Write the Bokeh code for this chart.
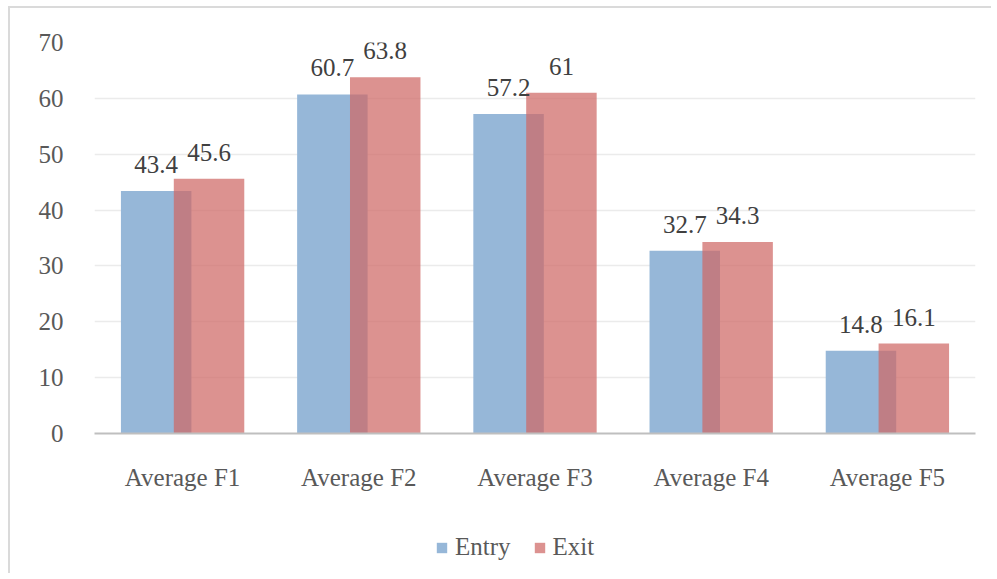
from bokeh.plotting import figure
from bokeh.layouts import column
from bokeh.models import (ColumnDataSource, FactorRange, Range1d, LabelSet, Legend,
                          LegendItem, FixedTicker)
from bokeh.core.properties import value
from bokeh.transform import dodge
from bokeh.embed import file_html
from bokeh.resources import INLINE

categories = ["Average F1", "Average F2", "Average F3", "Average F4", "Average F5"]
entry = [43.4, 60.7, 57.2, 32.7, 14.8]
exit_ = [45.6, 63.8, 61, 34.3, 16.1]
entry_labels = ["43.4", "60.7", "57.2", "32.7", "14.8"]
exit_labels = ["45.6", "63.8", "61", "34.3", "16.1"]
y_ticks = [0, 10, 20, 30, 40, 50, 60, 70]
series_names = ["Entry", "Exit"]

FONT = "Liberation Serif"
ENTRY_COLOR = "#96B7D8"
EXIT_COLOR = "#CE6865"
EXIT_ALPHA = 0.72

src = ColumnDataSource(dict(cat=categories, entry=entry, exit=exit_,
                            entry_lbl=entry_labels, exit_lbl=exit_labels))

p = figure(x_range=FactorRange(*categories, range_padding=0),
           y_range=Range1d(0, 70),
           width=981, height=503, output_backend="svg", toolbar_location=None,
           min_border_left=84, min_border_right=16, min_border_top=34,
           min_border_bottom=78)

p.background_fill_color = "white"
p.border_fill_color = "white"
p.outline_line_color = None

p.vbar(x=dodge("cat", -0.15, range=p.x_range), top="entry", width=0.4,
       source=src, fill_color=ENTRY_COLOR, line_color=None)
p.vbar(x=dodge("cat", 0.15, range=p.x_range), top="exit", width=0.4,
       source=src, fill_color=EXIT_COLOR, fill_alpha=EXIT_ALPHA, line_color=None)

for col, ycol, off in (("entry_lbl", "entry", -0.15), ("exit_lbl", "exit", 0.15)):
    lbl = LabelSet(x=dodge("cat", off, range=p.x_range), y=ycol, text=col, source=src,
                   y_offset=18, text_align="center", text_baseline="alphabetic",
                   text_font=value(FONT), text_font_size="25px", text_color="#404040")
    p.add_layout(lbl)

p.xgrid.grid_line_color = None
p.ygrid.grid_line_color = "#EBEBEB"
p.ygrid.grid_line_width = 1.5
p.yaxis.ticker = FixedTicker(ticks=y_ticks)

p.yaxis.axis_line_color = None
p.yaxis.major_tick_line_color = None
p.yaxis.minor_tick_line_color = None
p.yaxis.major_label_standoff = 25
p.yaxis.major_label_text_font = FONT
p.yaxis.major_label_text_font_size = "25px"
p.yaxis.major_label_text_color = "#595959"

p.xaxis.axis_line_color = "#BFBFBF"
p.xaxis.axis_line_width = 2
p.xaxis.major_tick_line_color = None
p.xaxis.minor_tick_line_color = None
p.xaxis.major_label_standoff = 24
p.xaxis.major_label_text_font = FONT
p.xaxis.major_label_text_font_size = "25px"
p.xaxis.major_label_text_color = "#595959"

# legend strip below the chart
lg = figure(width=981, height=62, output_backend="svg", toolbar_location=None,
            x_range=Range1d(0, 1), y_range=Range1d(0, 1),
            x_axis_type=None, y_axis_type=None, min_border=0)
lg.outline_line_color = None
lg.background_fill_color = "white"
lg.border_fill_color = "white"
r1 = lg.vbar(x=[0.5], top=[0], bottom=[0], width=0.1, fill_color=ENTRY_COLOR,
             line_color=None)
r2 = lg.vbar(x=[0.5], top=[0], bottom=[0], width=0.1, fill_color=EXIT_COLOR,
             fill_alpha=EXIT_ALPHA, line_color=None)
legend = Legend(items=[LegendItem(label=series_names[0], renderers=[r1]),
                       LegendItem(label=series_names[1], renderers=[r2])],
                orientation="horizontal", location=(341, 12),
                padding=0, margin=0, spacing=22, label_standoff=7,
                glyph_width=13, glyph_height=13,
                label_text_font=FONT, label_text_font_size="25px",
                label_text_color="#595959",
                background_fill_alpha=0, border_line_color=None)
lg.add_layout(legend, "center")

layout = column(p, lg, spacing=0)
layout.styles = {"border-left": "2px solid #dadada", "border-top": "2px solid #dadada",
                 "margin-left": "8px", "margin-top": "6px"}

open("out.html", "w").write(file_html(layout, INLINE))
